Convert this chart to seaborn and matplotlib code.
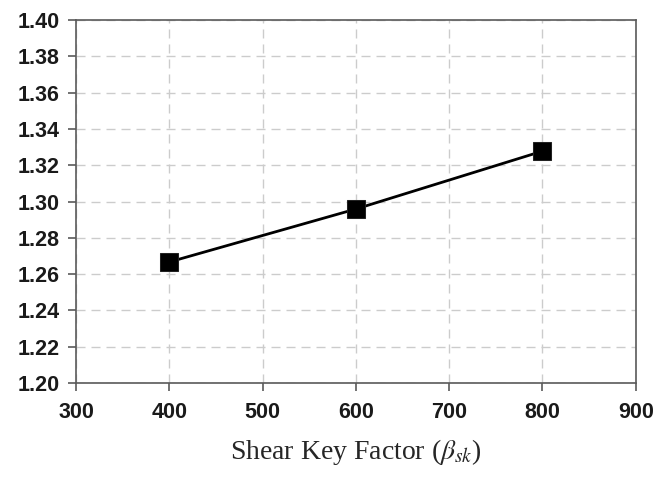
import pandas as pd
import matplotlib.pyplot as plt
import seaborn as sns

# values
shear_key = [400, 600, 800]
ratio = [1.2667, 1.2959, 1.3278]
x_ticks = [300, 400, 500, 600, 700, 800, 900]
y_ticks = [1.20, 1.22, 1.24, 1.26, 1.28, 1.30, 1.32, 1.34, 1.36, 1.38, 1.40]

df = pd.DataFrame({"x": shear_key, "y": ratio})

sns.set_style("white")
plt.rcParams["font.family"] = ["Liberation Sans", "DejaVu Sans"]
plt.rcParams["mathtext.fontset"] = "stix"

fig = plt.figure(figsize=(6.57, 4.87), dpi=100)
ax = fig.add_axes([0.1157, 0.2136, 0.852, 0.745])

sns.lineplot(data=df, x="x", y="y", ax=ax, color="black", linewidth=2.0,
             marker="s", markersize=13, markeredgecolor="#222222")

ax.set_xlim(300, 900)
ax.set_ylim(1.20, 1.40)
ax.set_xticks(x_ticks)
ax.set_yticks(y_ticks)
ax.set_xticklabels([str(v) for v in x_ticks], fontsize=15.5, fontweight="bold", color="#1a1a1a")
ax.set_yticklabels([f"{v:.2f}" for v in y_ticks], fontsize=15.5, fontweight="bold", color="#1a1a1a")
ax.tick_params(axis="both", direction="out", length=6, width=1.2, color="#5a5a5a",
               bottom=True, left=True)
ax.tick_params(axis="y", pad=6)
ax.tick_params(axis="x", pad=8)

ax.grid(True, color="#cccccc", linestyle=(0, (6.5, 4.3)), linewidth=1.0)
for side in ["left", "bottom", "top", "right"]:
    ax.spines[side].set_color("#5a5a5a")
    ax.spines[side].set_linewidth(1.2)

ax.set_ylabel("")
ax.set_xlabel("Shear Key Factor (" + r"$\beta_{sk}$" + ")",
              fontsize=20, family="Liberation Serif", labelpad=10)

fig.savefig("out.png", dpi=100)
